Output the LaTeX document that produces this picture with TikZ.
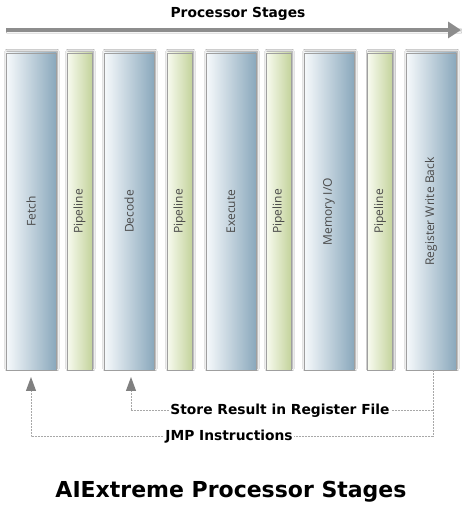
\documentclass[tikz,border=0pt]{standalone}
\usepackage{fontspec}
\setmainfont{DejaVu Sans}
\newfontfamily\lblfont{Open Sans}
\usetikzlibrary{arrows.meta,shadows.blur}
\definecolor{stageR}{HTML}{8AA8BC}
\definecolor{stageL}{HTML}{F7FAFC}
\definecolor{pipeR}{HTML}{C4D39C}
\definecolor{pipeL}{HTML}{F8FBF0}
\definecolor{lbltext}{HTML}{4A4A4A}
\definecolor{connc}{HTML}{A8A8A8}
\definecolor{arrowc}{HTML}{808080}
\begin{document}
\begin{tikzpicture}[x=1pt,y=1pt,
  boxbase/.style={draw=gray!75,line width=0.8pt,minimum height=317pt,inner sep=0pt,
    blur shadow={shadow xshift=1pt,shadow yshift=1.5pt,shadow blur steps=6,shadow opacity=45}},
  stagebox/.style={boxbase,minimum width=50pt,left color=stageL,right color=stageR},
  pipebox/.style={boxbase,minimum width=25pt,left color=pipeL,right color=pipeR},
  boxlbl/.style={font=\lblfont\fontsize{12}{14}\selectfont,text=lbltext,rotate=90},
  conn/.style={draw=connc,line width=1pt,dash pattern=on 2pt off 1pt},
  uptip/.style={-{Triangle[width=10pt,length=14pt,fill=arrowc,color=arrowc]}},
  lbl/.style={font=\bfseries\fontsize{13.8}{16}\selectfont,fill=white,inner sep=1.5pt}]
\useasboundingbox (0,0) rectangle (465,510);
\fill[white] (0,0) rectangle (465,510);
% title arrow
\node[font=\bfseries\fontsize{13.8}{16}\selectfont] (ptitle) at (238,496) {Processor Stages};
\coordinate (tstart) at (6,480);
\coordinate (tend) at (461,480);
\draw[arrowc!90,line width=4.5pt,-{Triangle[width=16pt,length=13pt]},
  blur shadow={shadow xshift=0.5pt,shadow yshift=-1pt,shadow opacity=30}] (tstart) -- (tend);
% stages
\node[stagebox] (fetch)  at (31,298.5) {};
\node[pipebox]  (pipe1)  at (79.5,298.5) {};
\node[stagebox] (decode) at (129,298.5) {};
\node[pipebox]  (pipe2)  at (179.5,298.5) {};
\node[stagebox] (exec)   at (231,298.5) {};
\node[pipebox]  (pipe3)  at (278.5,298.5) {};
\node[stagebox] (mem)    at (329,298.5) {};
\node[pipebox]  (pipe4)  at (380,298.5) {};
\node[stagebox] (rwb)    at (431,298.5) {};
\node[boxlbl] (tfetch)  at (fetch)  {Fetch};
\node[boxlbl] (tp1)     at (pipe1)  {Pipeline};
\node[boxlbl] (tdecode) at (decode) {Decode};
\node[boxlbl] (tp2)     at (pipe2)  {Pipeline};
\node[boxlbl] (texec)   at (exec)   {Execute};
\node[boxlbl] (tp3)     at (pipe3)  {Pipeline};
\node[boxlbl] (tmem)    at (mem)    {Memory I/O};
\node[boxlbl] (tp4)     at (pipe4)  {Pipeline};
\node[boxlbl] (trwb)    at (rwb)    {Register Write Back};
% feedback connectors
\coordinate (rwbout) at ([xshift=2pt]rwb.south);
\coordinate (c1) at (433,73);
\coordinate (c2) at (433,99);
\coordinate (fin) at (31,73);
\coordinate (din) at (131,99);
\coordinate (ftip) at (31,133);
\coordinate (dtip) at (131,133);
\draw[conn] (rwbout) -- (c1);
\draw[conn,uptip] (c1) -- (fin) -- (ftip);
\draw[conn,uptip] (c2) -- (din) -- (dtip);
\node[lbl] (jmp) at (229,73) {JMP Instructions};
\node[lbl] (store) at (280,99) {Store Result in Register File};
% main title
\node[font=\bfseries\fontsize{22}{26}\selectfont] (maintitle) at (231,18) {AIExtreme Processor Stages};
\end{tikzpicture}
\end{document}
